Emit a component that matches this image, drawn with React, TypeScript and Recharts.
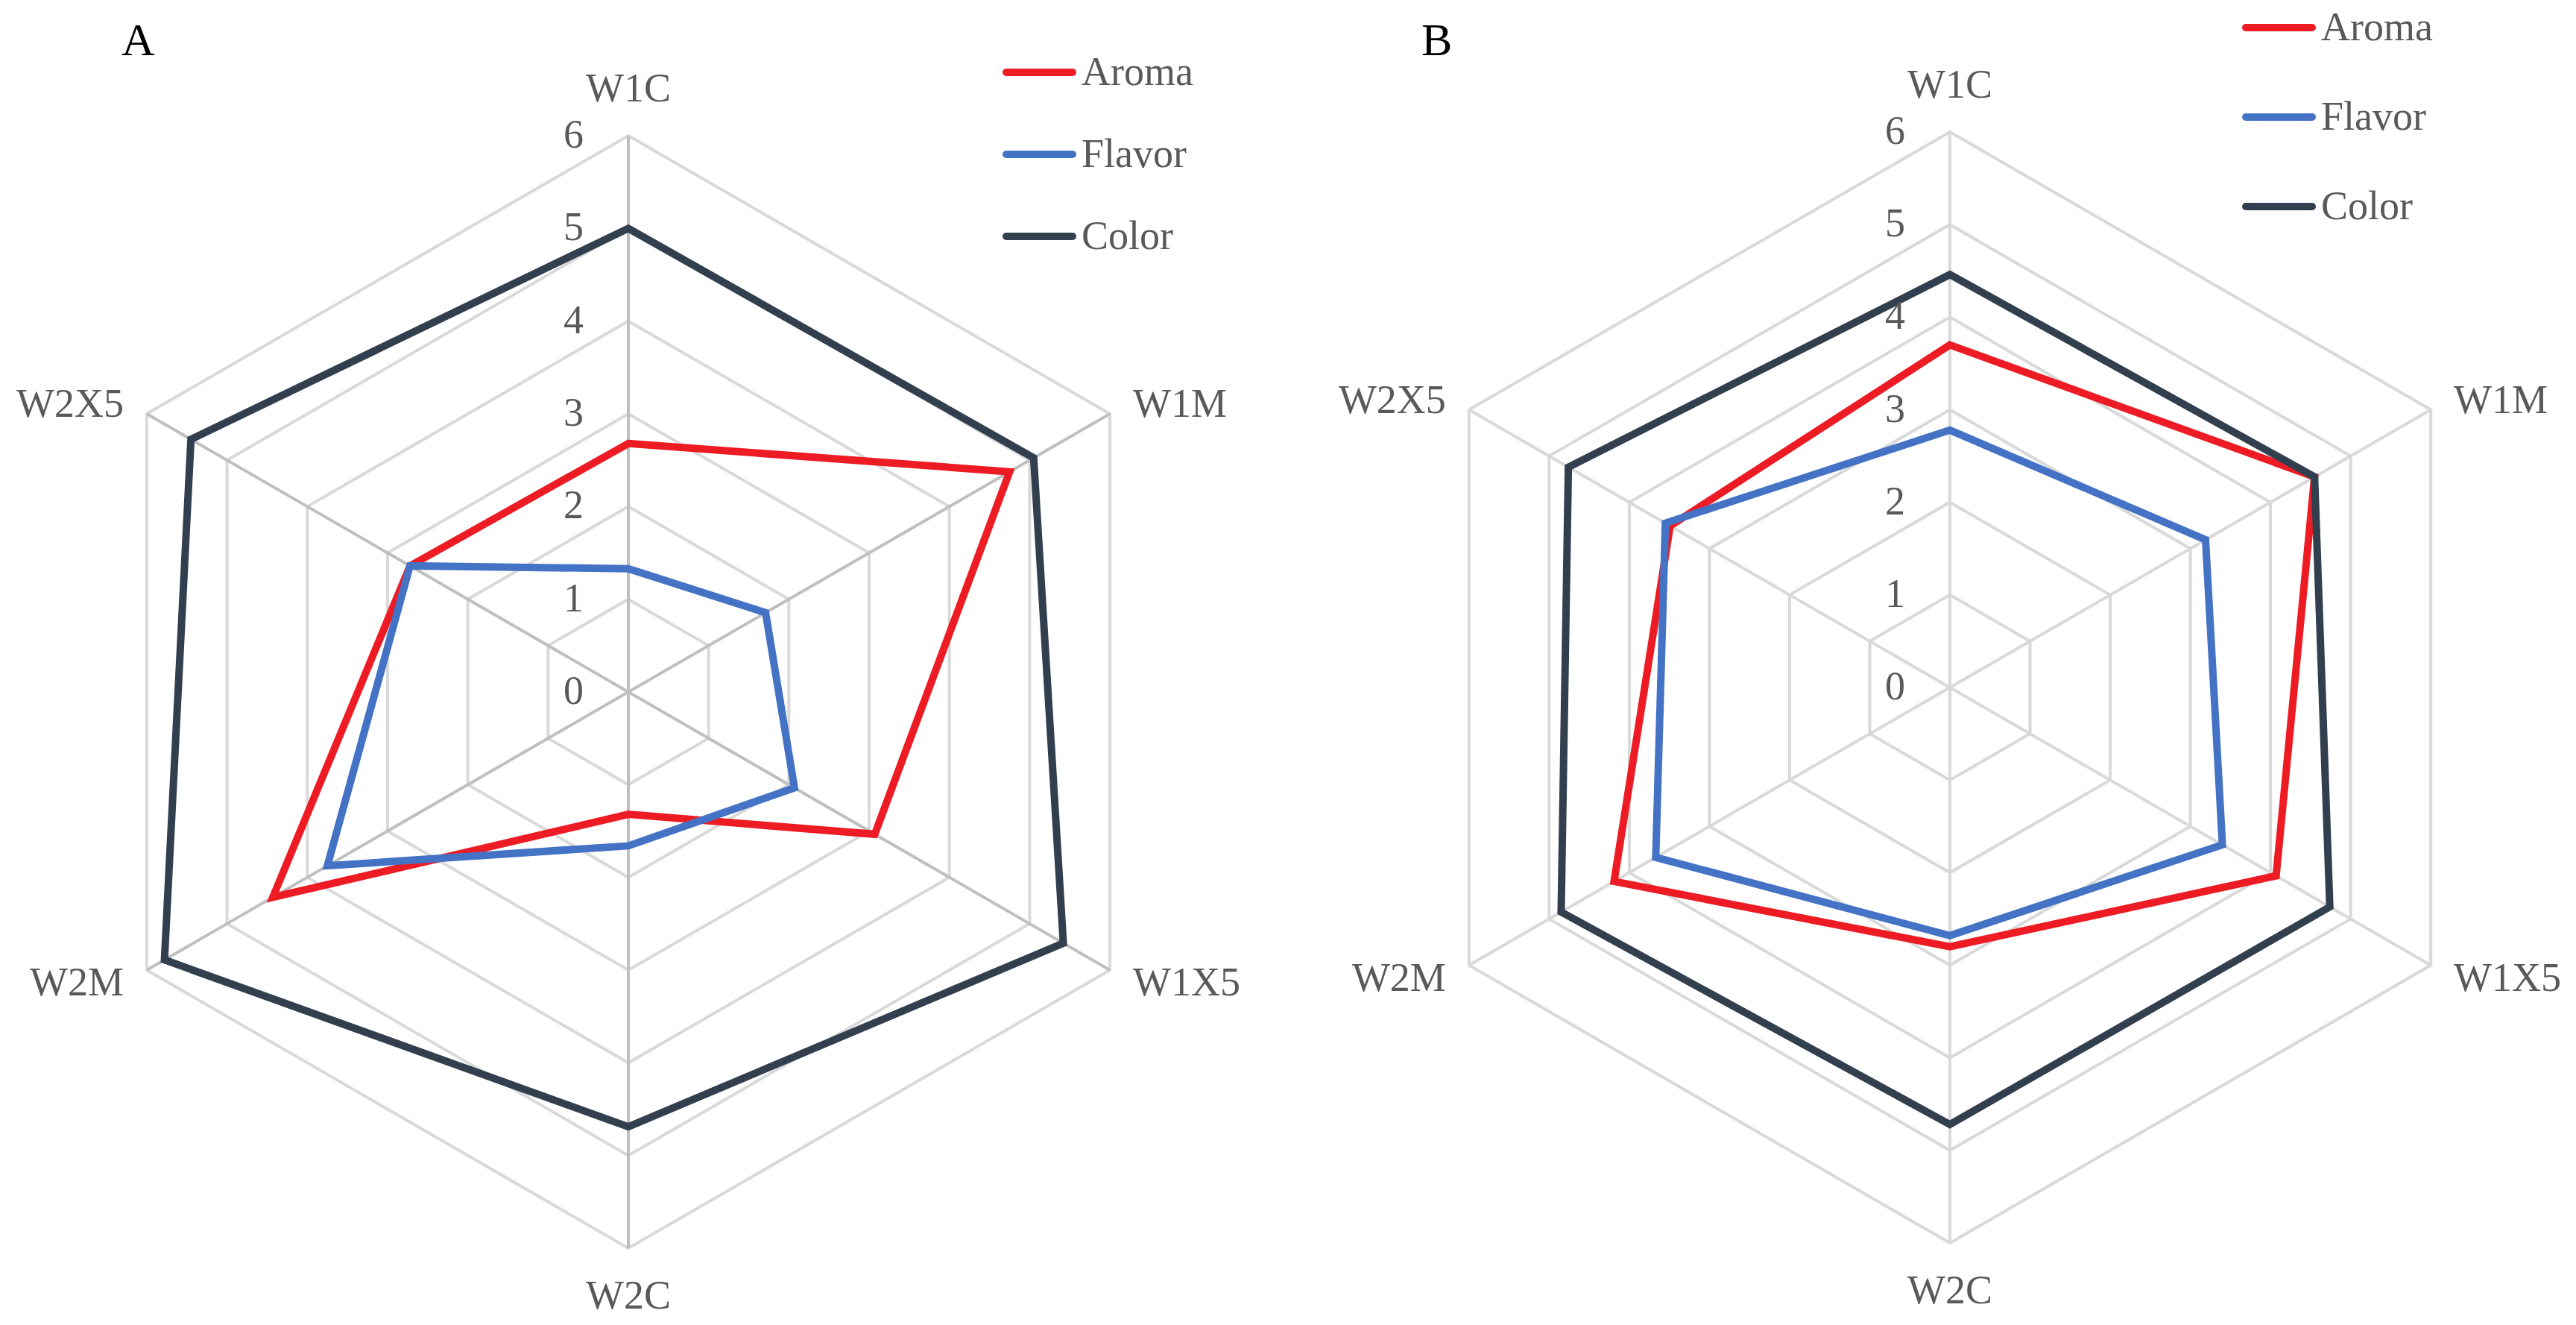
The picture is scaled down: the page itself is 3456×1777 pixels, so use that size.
import React from 'react';
import { RadarChart, Radar, PolarGrid, PolarAngleAxis, PolarRadiusAxis, Legend } from 'recharts';

const categories = ['W1C', 'W1M', 'W1X5', 'W2C', 'W2M', 'W2X5'];

// panel A
const aromaA = [2.68, 4.75, 3.07, 1.32, 4.43, 2.72];
const flavorA = [1.33, 1.71, 2.07, 1.66, 3.75, 2.72];
const colorA = [5.0, 5.05, 5.42, 4.69, 5.78, 5.45];

// panel B
const aromaB = [3.7, 4.55, 4.07, 2.8, 4.19, 3.49];
const flavorB = [2.78, 3.19, 3.4, 2.68, 3.67, 3.55];
const colorB = [4.46, 4.55, 4.74, 4.72, 4.85, 4.76];

const series = [
  { key: 'Aroma', color: '#ed1c24' },
  { key: 'Flavor', color: '#4472c4' },
  { key: 'Color', color: '#323f4f' },
];

const FONT = '"Liberation Serif", "Times New Roman", serif';
const TEXT = '#595959';

const buildRows = (aroma: number[], flavor: number[], color: number[]) =>
  categories.map((name, i) => ({ name, Aroma: aroma[i], Flavor: flavor[i], Color: color[i] }));

const dataA = buildRows(aromaA, flavorA, colorA);
const dataB = buildRows(aromaB, flavorB, colorB);

// category labels sit a bit further out than recharts puts them
const AngleTick = (props: any) => {
  const { x, y, payload } = props;
  const a = payload.coordinate;
  const cos = Math.cos((a * Math.PI) / 180);
  const sin = Math.sin((a * Math.PI) / 180);
  let tx = x;
  let ty = y;
  let anchor = 'middle';
  if (Math.abs(cos) < 0.01) {
    ty = sin > 0 ? y - 38 : y + 73;
  } else {
    anchor = cos > 0 ? 'start' : 'end';
    tx = cos > 0 ? x + 24 : x - 24;
    ty = sin > 0 ? y + 8 : y + 30;
  }
  return (
    <text x={tx} y={ty} textAnchor={anchor} fontSize={54} fontFamily={FONT} fill={TEXT}>
      {payload.value}
    </text>
  );
};

const RadiusTick = (props: any) => {
  const { x, y, payload } = props;
  return (
    <text x={x - 60} y={y + 16} textAnchor="end" fontSize={54} fontFamily={FONT} fill={TEXT}>
      {payload.value}
    </text>
  );
};

// legend keeps the series order (recharts sorts by name otherwise)
const makeLegend = (gap: number) => () => (
  <svg width={340} height={gap * 3 + 60}>
    {series.map((s, i) => {
      const ly = 50 + i * gap;
      return (
        <g key={s.key}>
          <line x1={10} x2={99} y1={ly} y2={ly} stroke={s.color} strokeWidth={10} strokeLinecap="round" />
          <text x={111} y={ly + 17} fontSize={54} fontFamily={FONT} fill={TEXT}>
            {s.key}
          </text>
        </g>
      );
    })}
  </svg>
);

type PanelProps = {
  data: any[];
  left: number;
  cx: number;
  cy: number;
  r: number;
  spoke: string;
  legendLeft: number;
  legendTop: number;
  legendGap: number;
};

function Panel({ data, left, cx, cy, r, spoke, legendLeft, legendTop, legendGap }: PanelProps) {
  return (
    <div style={{ position: 'absolute', left, top: 0 }}>
      <RadarChart width={1728} height={1777} data={data} cx={cx} cy={cy} outerRadius={r} margin={{ top: 0, right: 0, bottom: 0, left: 0 }}>
        <PolarGrid radialLines={false} stroke="#d9d9d9" strokeWidth={4} />
        <PolarGrid polarRadius={[]} stroke={spoke} strokeWidth={4} />
        <PolarAngleAxis dataKey="name" tick={AngleTick} tickLine={false} axisLine={false} />
        <PolarRadiusAxis angle={90} domain={[0, 6]} tickCount={7} axisLine={false} tickLine={false} tick={RadiusTick} />
        {series.map((s) => (
          <Radar
            key={s.key}
            name={s.key}
            dataKey={s.key}
            stroke={s.color}
            strokeWidth={10}
            fill="none"
            fillOpacity={0}
            dot={false}
            isAnimationActive={false}
          />
        ))}
        <Legend
          layout="vertical"
          content={makeLegend(legendGap)}
          wrapperStyle={{ left: legendLeft, top: legendTop, width: 340 }}
        />
      </RadarChart>
    </div>
  );
}

export default function App() {
  return (
    <div style={{ position: 'absolute', left: 0, top: 0, width: 3456, height: 1777, background: '#fff', fontFamily: FONT }}>
      <Panel data={dataA} left={0} cx={843} cy={928} r={746} spoke="#bfbfbf" legendLeft={1340} legendTop={47} legendGap={110} />
      <Panel data={dataB} left={1728} cx={888} cy={922} r={745} spoke="#d9d9d9" legendLeft={1275} legendTop={-13} legendGap={120} />
      <div style={{ position: 'absolute', left: 163, top: 22, fontSize: 62, lineHeight: 1, color: '#000' }}>A</div>
      <div style={{ position: 'absolute', left: 1907, top: 22, fontSize: 62, lineHeight: 1, color: '#000' }}>B</div>
    </div>
  );
}
